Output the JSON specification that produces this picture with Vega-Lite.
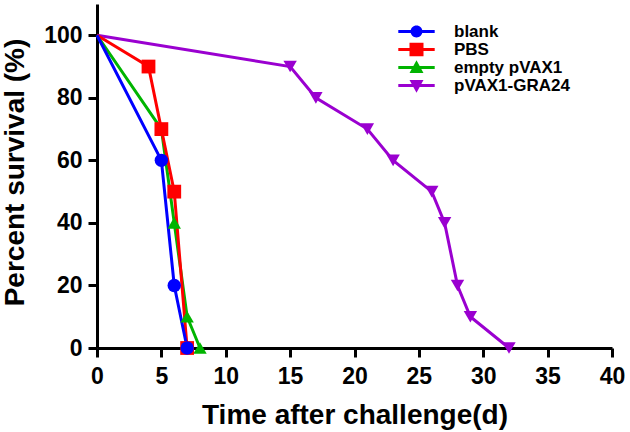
{
  "$schema": "https://vega.github.io/schema/vega-lite/v6.json",
  "width": 515,
  "height": 344,
  "autosize": {"type": "none"},
  "padding": {"left": 97, "top": 4, "right": 18, "bottom": 84},
  "background": "white",
  "config": {
    "view": {"stroke": null},
    "font": "Liberation Sans",
    "axis": {
      "domainColor": "black",
      "domainWidth": 3,
      "tickColor": "black",
      "tickWidth": 3,
      "tickSize": 9,
      "grid": false,
      "labelFont": "Liberation Sans",
      "labelFontWeight": "bold",
      "labelFontSize": 23,
      "labelColor": "black",
      "titleFont": "Liberation Sans",
      "titleFontWeight": "bold",
      "titleFontSize": 28,
      "titleColor": "black"
    }
  },
  "data": {
    "values": [
      {"group": "pVAX1-GRA24", "day": 0, "survival": 100},
      {"group": "pVAX1-GRA24", "day": 15, "survival": 90},
      {"group": "pVAX1-GRA24", "day": 17, "survival": 80},
      {"group": "pVAX1-GRA24", "day": 21, "survival": 70},
      {"group": "pVAX1-GRA24", "day": 23, "survival": 60},
      {"group": "pVAX1-GRA24", "day": 26, "survival": 50},
      {"group": "pVAX1-GRA24", "day": 27, "survival": 40},
      {"group": "pVAX1-GRA24", "day": 28, "survival": 20},
      {"group": "pVAX1-GRA24", "day": 29, "survival": 10},
      {"group": "pVAX1-GRA24", "day": 32, "survival": 0},
      {"group": "empty pVAX1", "day": 0, "survival": 100},
      {"group": "empty pVAX1", "day": 5, "survival": 70},
      {"group": "empty pVAX1", "day": 6, "survival": 40},
      {"group": "empty pVAX1", "day": 7, "survival": 10},
      {"group": "empty pVAX1", "day": 8, "survival": 0},
      {"group": "PBS", "day": 0, "survival": 100},
      {"group": "PBS", "day": 4, "survival": 90},
      {"group": "PBS", "day": 5, "survival": 70},
      {"group": "PBS", "day": 6, "survival": 50},
      {"group": "PBS", "day": 7, "survival": 0},
      {"group": "blank", "day": 0, "survival": 100},
      {"group": "blank", "day": 5, "survival": 60},
      {"group": "blank", "day": 6, "survival": 20},
      {"group": "blank", "day": 7, "survival": 0}
    ]
  },
  "encoding": {
    "x": {
      "field": "day",
      "type": "quantitative",
      "scale": {"domain": [0, 40], "nice": false, "zero": false},
      "axis": {
        "values": [0, 5, 10, 15, 20, 25, 30, 35, 40],
        "title": "Time after challenge(d)",
        "labelPadding": 8,
        "labelFlush": false,
        "titleBaseline": "alphabetic",
        "titleY": 75
      }
    },
    "y": {
      "field": "survival",
      "type": "quantitative",
      "scale": {"domain": [0, 110], "nice": false},
      "axis": {
        "values": [0, 20, 40, 60, 80, 100],
        "title": "Percent survival (%)",
        "labelPadding": 6,
        "titleBaseline": "alphabetic",
        "titleX": -74,
        "titleY": 168
      }
    },
    "color": {
      "field": "group",
      "type": "nominal",
      "scale": {
        "domain": ["blank", "PBS", "empty pVAX1", "pVAX1-GRA24"],
        "range": ["#0000FF", "#FF0000", "#00B400", "#9A00D0"]
      },
      "legend": {
        "title": null,
        "orient": "none",
        "legendX": 311,
        "legendY": 19,
        "padding": 0,
        "symbolSize": 196,
        "labelOffset": 29,
        "rowPadding": 0,
        "labelFont": "Liberation Sans",
        "labelFontWeight": "bold",
        "labelFontSize": 17,
        "labelColor": "black",
        "labelBaseline": "middle",
        "labelLimit": 300,
        "encode": {
          "symbols": {
            "update": {
              "size": {"value": 196},
              "strokeWidth": {"value": 0},
              "stroke": {"value": "transparent"},
              "opacity": {"value": 1},
              "fillOpacity": {"value": 1},
              "fill": {
                "signal": "datum.value === 'blank' ? '#0000FF' : datum.value === 'PBS' ? '#FF0000' : datum.value === 'empty pVAX1' ? '#00B400' : '#9A00D0'"
              },
              "shape": {
                "signal": "datum.value === 'blank' ? 'M-2.6,-0.22 L2.6,-0.22 L2.6,0.22 L-2.6,0.22 Z M-0.85,0 A0.85,0.85 0 1,1 0.85,0 A0.85,0.85 0 1,1 -0.85,0 Z' : datum.value === 'PBS' ? 'M-2.6,-0.22 L2.6,-0.22 L2.6,0.22 L-2.6,0.22 Z M-1,-0.95 L1,-0.95 L1,0.95 L-1,0.95 Z' : datum.value === 'empty pVAX1' ? 'M-2.6,-0.22 L2.6,-0.22 L2.6,0.22 L-2.6,0.22 Z M0,-1.05 L1,0.8 L-1,0.8 Z' : 'M-2.6,-0.22 L2.6,-0.22 L2.6,0.22 L-2.6,0.22 Z M-1,-0.8 L1,-0.8 L0,1.05 Z'"
              }
            }
          }
        }
      }
    }
  },
  "layer": [
    {
      "mark": {"type": "line", "strokeWidth": 3}
    },
    {
      "transform": [{"filter": "datum.day > 0 && datum.group === 'pVAX1-GRA24'"}],
      "mark": {"type": "point", "filled": true, "opacity": 1, "size": 180, "shape": "triangle-down"}
    },
    {
      "transform": [{"filter": "datum.day > 0 && datum.group === 'empty pVAX1'"}],
      "mark": {"type": "point", "filled": true, "opacity": 1, "size": 180, "shape": "triangle-up"}
    },
    {
      "transform": [{"filter": "datum.day > 0 && datum.group === 'PBS'"}],
      "mark": {"type": "point", "filled": true, "opacity": 1, "size": 190, "shape": "square"}
    },
    {
      "transform": [{"filter": "datum.day > 0 && datum.group === 'blank'"}],
      "mark": {"type": "point", "filled": true, "opacity": 1, "size": 180, "shape": "circle"}
    }
  ]
}
